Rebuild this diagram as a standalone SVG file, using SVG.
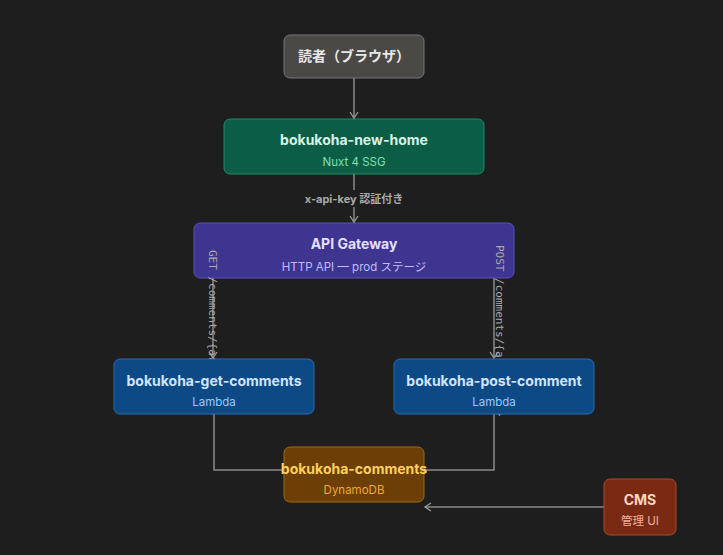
<svg xmlns="http://www.w3.org/2000/svg" width="723" height="555" viewBox="0 0 723 555">
<defs><marker id="a" markerWidth="10" markerHeight="10" refX="8" refY="5" orient="auto" markerUnits="userSpaceOnUse"><path d="M2,1 L8,5 L2,9" fill="none" stroke="#9a9a9a" stroke-width="1.3"/></marker></defs>
<style>
text{font-family:"Inter","Noto Sans","Noto Sans CJK JP",sans-serif;text-anchor:middle}
.t{font-size:14px;font-weight:bold}.s{font-size:11.5px}
.c{fill:none;stroke:#8a8a8a;stroke-width:1.5}
.l{font-size:11px;fill:#aaa;font-family:"DejaVu Sans Mono",monospace}
</style>
<rect width="723" height="555" fill="#1e1e1e"/>
<g id="n-reader"><rect x="284" y="35" width="140" height="43" rx="6" fill="#4a4946" stroke="#777"/><text class="t" x="354" y="61" fill="#e8e8e8">読者（ブラウザ）</text></g>
<g id="n-home"><rect x="224" y="119" width="260" height="55" rx="6" fill="#0b5e45" stroke="#1f8a66"/><text class="t" x="354" y="145" fill="#d8f2e6">bokukoha-new-home</text><text class="s" x="354" y="166" fill="#7fe0b0">Nuxt 4 SSG</text></g>
<g id="n-gw"><rect x="194" y="223" width="320" height="55" rx="6" fill="#3d3590" stroke="#5a50b8"/><text class="t" x="354" y="249" fill="#e4e0ff">API Gateway</text><text class="s" x="354" y="271" fill="#c4bcff">HTTP API — prod ステージ</text></g>
<g id="connectors">
<path class="c" d="M354,78 V118" marker-end="url(#a)"/>
<path class="c" d="M354,174 V222" marker-end="url(#a)"/>
<rect x="298" y="190" width="112" height="17" fill="#1e1e1e"/>
<text x="354" y="203" style="font-size:11px;font-weight:bold" fill="#aaa">x-api-key 認証付き</text>
<path class="c" d="M213,278 V358" marker-end="url(#a)"/>
<path class="c" d="M494,278 V358" marker-end="url(#a)"/>
<text class="l" transform="translate(209,250) rotate(90)" style="text-anchor:start">GET /comments/{articleId}</text>
<text class="l" transform="translate(496,245) rotate(90)" style="text-anchor:start">POST /comments/{articleId}</text>
<path class="c" d="M214,414 V470 H284"/>
<path class="c" d="M494,414 V470 H424"/>
<path class="c" d="M604,507 H425" marker-end="url(#a)"/>
</g>
<g id="n-get"><rect x="114" y="359" width="200" height="55" rx="6" fill="#0d4a85" stroke="#2a6ab0"/><text class="t" x="214" y="386" fill="#d0e4ff">bokukoha-get-comments</text><text class="s" x="214" y="406" fill="#9cc8ff">Lambda</text></g>
<g id="n-post"><rect x="394" y="359" width="200" height="55" rx="6" fill="#0d4a85" stroke="#2a6ab0"/><text class="t" x="494" y="386" fill="#d0e4ff">bokukoha-post-comment</text><text class="s" x="494" y="406" fill="#9cc8ff">Lambda</text></g>
<g id="n-db"><rect x="284" y="447" width="140" height="55" rx="6" fill="#6b3f05" stroke="#a06a15"/><text class="t" x="354" y="474" fill="#ffd060">bokukoha-comments</text><text class="s" x="354" y="494" fill="#f0a838">DynamoDB</text></g>
<g id="n-cms"><rect x="604" y="479" width="72" height="56" rx="6" fill="#7a2a12" stroke="#a84a2a"/><text class="t" x="640" y="505" fill="#ffd4c4">CMS</text><text class="s" x="640" y="525" fill="#f0b0a0">管理 UI</text></g>
</svg>
